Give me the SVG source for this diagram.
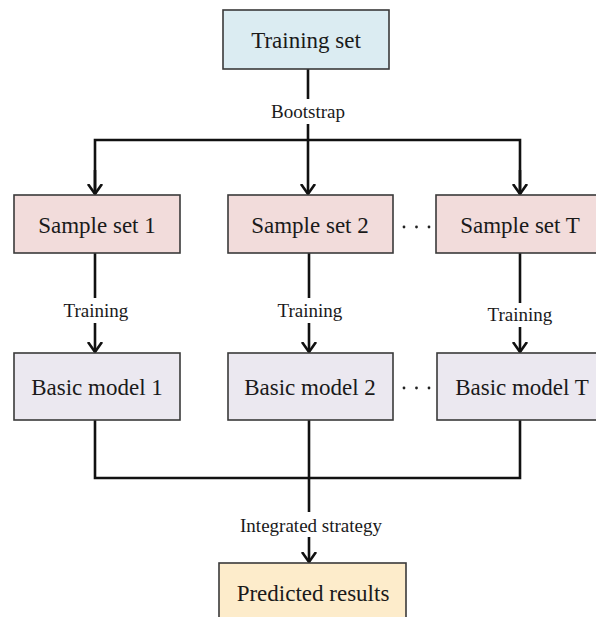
<svg xmlns="http://www.w3.org/2000/svg" width="596" height="617" viewBox="0 0 596 617">
  <defs>
    <style>
      .box { stroke: #3a3a3a; stroke-width: 1.6; }
      .train { fill: #dbecf2; }
      .sample { fill: #f2dcdb; }
      .model { fill: #ebe8f0; }
      .result { fill: #fdeccb; }
      .node-text { font-family: "Liberation Serif", "Times New Roman", serif; font-size: 23px; fill: #1a1a1a; text-anchor: middle; }
      .label { font-family: "Liberation Serif", "Times New Roman", serif; font-size: 19px; fill: #1a1a1a; text-anchor: middle; }
      .wire { fill: none; stroke: #111; stroke-width: 2.6; stroke-linejoin: miter; }
      .dot { fill: #222; }
    </style>
    <marker id="arrow" markerUnits="userSpaceOnUse" viewBox="-10 -10 20 20" refX="0" refY="0" markerWidth="20" markerHeight="20" orient="auto">
      <path d="M-10,-7 L0,0 L-10,7" fill="none" stroke="#111" stroke-width="2.6"/>
    </marker>
  </defs>

  <rect width="596" height="617" fill="#ffffff"/>

  <!-- connectors -->
  <g id="connectors">
    <!-- training set to bootstrap split -->
    <path class="wire" d="M308,69 V99"/>
    <path class="wire" d="M308,124 V140"/>
    <path class="wire" d="M95,194 V140 H520 V194"/>
    <path class="wire" d="M95,170 V194" marker-end="url(#arrow)"/>
    <path class="wire" d="M308,140 V194" marker-end="url(#arrow)"/>
    <path class="wire" d="M520,170 V194" marker-end="url(#arrow)"/>
    <!-- sample sets to basic models -->
    <path class="wire" d="M95,253 V298"/>
    <path class="wire" d="M95,323 V352" marker-end="url(#arrow)"/>
    <path class="wire" d="M309,253 V298"/>
    <path class="wire" d="M309,323 V352" marker-end="url(#arrow)"/>
    <path class="wire" d="M520,253 V303"/>
    <path class="wire" d="M520,327 V352" marker-end="url(#arrow)"/>
    <!-- basic models to integration -->
    <path class="wire" d="M95,420 V478 H520 V420"/>
    <path class="wire" d="M309,420 V512"/>
    <path class="wire" d="M309,537 V562" marker-end="url(#arrow)"/>
  </g>

  <!-- edge labels -->
  <g id="edge-labels">
    <text class="label" x="308" y="118">Bootstrap</text>
    <text class="label" x="96" y="317">Training</text>
    <text class="label" x="310" y="317">Training</text>
    <text class="label" x="520" y="321">Training</text>
    <text class="label" x="311" y="532">Integrated strategy</text>
  </g>

  <g id="training-set">
    <rect class="box train" x="223" y="10" width="166" height="59"/>
    <text class="node-text" x="306" y="48">Training set</text>
  </g>

  <g id="sample-set-1">
    <rect class="box sample" x="14" y="195" width="166" height="58"/>
    <text class="node-text" x="97" y="233">Sample set 1</text>
  </g>
  <g id="sample-set-2">
    <rect class="box sample" x="228" y="195" width="165" height="58"/>
    <text class="node-text" x="310" y="233">Sample set 2</text>
  </g>
  <g id="sample-set-t">
    <rect class="box sample" x="436" y="195" width="170" height="58"/>
    <text class="node-text" x="520" y="233">Sample set T</text>
  </g>

  <g id="basic-model-1">
    <rect class="box model" x="14" y="353" width="166" height="67"/>
    <text class="node-text" x="97" y="395">Basic model 1</text>
  </g>
  <g id="basic-model-2">
    <rect class="box model" x="228" y="353" width="165" height="67"/>
    <text class="node-text" x="310" y="395">Basic model 2</text>
  </g>
  <g id="basic-model-t">
    <rect class="box model" x="437" y="353" width="170" height="67"/>
    <text class="node-text" x="522" y="395">Basic model T</text>
  </g>

  <!-- ellipsis between columns -->
  <g id="ellipsis">
    <circle class="dot" cx="404" cy="227" r="1.4"/>
    <circle class="dot" cx="416.5" cy="227" r="1.4"/>
    <circle class="dot" cx="429" cy="227" r="1.4"/>
    <circle class="dot" cx="404" cy="388" r="1.4"/>
    <circle class="dot" cx="416.5" cy="388" r="1.4"/>
    <circle class="dot" cx="429" cy="388" r="1.4"/>
  </g>

  <g id="predicted-results">
    <rect class="box result" x="219" y="563" width="187" height="70"/>
    <text class="node-text" x="313" y="601">Predicted results</text>
  </g>
</svg>
